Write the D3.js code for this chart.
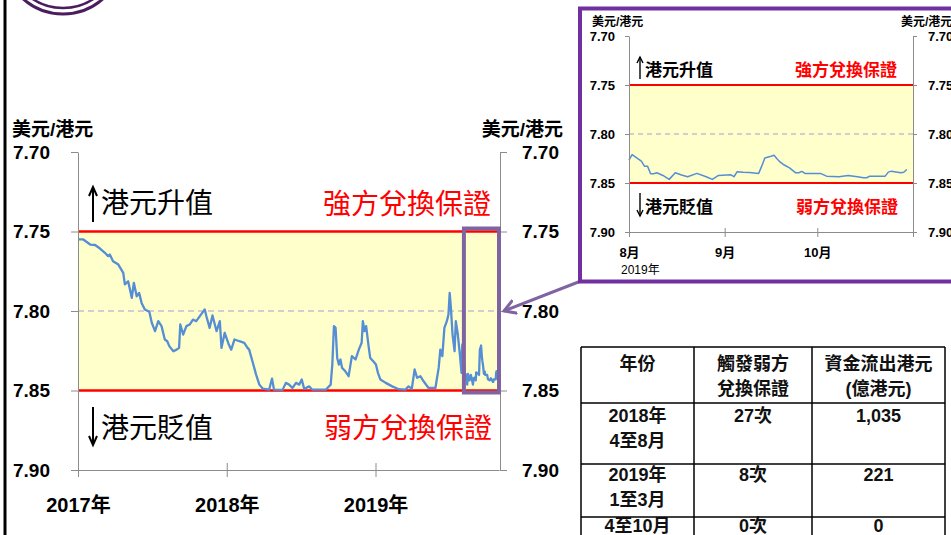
<!DOCTYPE html>
<html><head><meta charset="utf-8">
<script src="https://cdn.jsdelivr.net/npm/d3@7"></script>
<style>
body{margin:0;background:#fff;overflow:hidden;}
svg{display:block;}
text{font-family:"Liberation Sans","Noto Sans CJK TC",Arial,sans-serif;}
.cjk{font-family:"Noto Sans CJK TC","Liberation Sans",sans-serif;}
</style></head><body>
<svg id="c" width="951" height="535"></svg>
<script>
// ---------------- data ----------------
const yTicks = [7.70, 7.75, 7.80, 7.85, 7.90];
const yearTicks = ["2017-01-01", "2018-01-01", "2019-01-01"];
const yearLabels = ["2017年", "2018年", "2019年"];
const monthTicks = ["2019-08-01", "2019-09-01", "2019-10-01"];
const monthLabels = ["8月", "9月", "10月"];
const strongSide = 7.75, weakSide = 7.85, midRate = 7.80;
const mainPeriod = ["2017-01-01", "2019-10-31"];
const zoomPeriod = ["2019-08-01", "2019-11-01"];

const trendDates = [
"2017-01-02","2017-01-14","2017-01-31","2017-02-12","2017-02-24","2017-03-08","2017-03-16","2017-03-20","2017-03-28","2017-04-10",
"2017-04-22","2017-04-26","2017-05-04","2017-05-13","2017-05-18","2017-05-25","2017-05-31","2017-06-06","2017-06-14","2017-06-25",
"2017-07-01","2017-07-09","2017-07-17","2017-07-25","2017-08-02","2017-08-08","2017-08-13","2017-08-23","2017-08-31","2017-09-06",
"2017-09-09","2017-09-16","2017-09-24","2017-10-02","2017-10-10","2017-10-18","2017-10-31","2017-11-08","2017-11-12","2017-11-20",
"2017-11-27","2017-12-07","2017-12-15","2017-12-19","2017-12-27","2018-01-06","2018-01-12","2018-01-20","2018-02-01","2018-02-13",
"2018-02-21","2018-02-25","2018-03-05","2018-03-14","2018-03-22","2018-03-30","2018-04-15","2018-04-22","2018-04-27","2018-05-18",
"2018-05-26","2018-06-03","2018-06-11","2018-06-20","2018-06-28","2018-07-04","2018-07-10","2018-07-22","2018-07-30","2018-09-01",
"2018-09-13","2018-09-17","2018-09-21","2018-09-25","2018-09-29","2018-10-03","2018-10-07","2018-10-11","2018-10-19","2018-10-27",
"2018-11-04","2018-11-13","2018-11-21","2018-11-28","2018-12-01","2018-12-05","2018-12-09","2018-12-15","2018-12-19","2018-12-27",
"2019-01-02","2019-01-07","2019-01-13","2019-01-26","2019-02-11","2019-02-27","2019-03-15","2019-03-23","2019-03-31","2019-04-07",
"2019-04-13","2019-04-21","2019-04-29","2019-05-11","2019-05-28","2019-06-01","2019-06-05","2019-06-09","2019-06-14","2019-06-19",
"2019-06-25","2019-06-29","2019-07-02","2019-07-05","2019-07-09","2019-07-14","2019-07-17","2019-07-22","2019-07-27","2019-07-31"];
const trendRates = [
7.7550,7.7550,7.7582,7.7585,7.7607,7.7634,7.7655,7.7645,7.7687,7.7708,
7.7760,7.7833,7.7813,7.7917,7.7823,7.7907,7.7886,7.7949,7.7990,7.8005,
7.8074,7.8127,7.8064,7.8095,7.8179,7.8190,7.8221,7.8253,7.8243,7.8232,
7.8085,7.8148,7.8095,7.8085,7.8054,7.8064,7.8018,7.7990,7.8033,7.8106,
7.8028,7.8127,7.8064,7.8232,7.8137,7.8211,7.8243,7.8179,7.8190,7.8200,
7.8232,7.8243,7.8316,7.8400,7.8463,7.8488,7.8495,7.8425,7.8495,7.8496,
7.8452,7.8463,7.8484,7.8452,7.8463,7.8431,7.8490,7.8474,7.8495,7.8495,
7.8463,7.8337,7.8095,7.8106,7.8295,7.8337,7.8305,7.8358,7.8379,7.8410,
7.8284,7.8305,7.8243,7.8200,7.8064,7.8127,7.8095,7.8221,7.8295,7.8318,
7.8337,7.8389,7.8431,7.8452,7.8474,7.8492,7.8495,7.8474,7.8490,7.8368,
7.8420,7.8410,7.8442,7.8484,7.8484,7.8420,7.8358,7.8243,7.8284,7.8106,
7.8064,7.8022,7.7886,7.7980,7.8148,7.8253,7.8064,7.8148,7.8274,7.8389];

const zoomDates = [
"2019-08-01","2019-08-02","2019-08-05","2019-08-06","2019-08-07","2019-08-08","2019-08-09","2019-08-10","2019-08-12","2019-08-14",
"2019-08-16","2019-08-18","2019-08-20","2019-08-23","2019-08-26","2019-08-28","2019-08-30","2019-09-03","2019-09-04","2019-09-05",
"2019-09-07","2019-09-09","2019-09-12","2019-09-13","2019-09-14","2019-09-16","2019-09-17","2019-09-18","2019-09-19","2019-09-20",
"2019-09-22","2019-09-24","2019-09-25","2019-09-26","2019-09-27","2019-09-30","2019-10-02","2019-10-04","2019-10-08","2019-10-11",
"2019-10-14","2019-10-16","2019-10-17","2019-10-18","2019-10-21","2019-10-23","2019-10-24","2019-10-25","2019-10-28","2019-10-29",
"2019-10-30"];
const zoomRates = [
7.8267,7.8210,7.8277,7.8328,7.8328,7.8406,7.8406,7.8396,7.8423,7.8463,
7.8396,7.8419,7.8436,7.8402,7.8436,7.8463,7.8423,7.8416,7.8436,7.8386,
7.8390,7.8392,7.8402,7.8328,7.8244,7.8227,7.8217,7.8254,7.8288,7.8311,
7.8345,7.8396,7.8396,7.8382,7.8402,7.8402,7.8402,7.8430,7.8436,7.8423,
7.8436,7.8446,7.8446,7.8430,7.8430,7.8430,7.8389,7.8379,7.8396,7.8390,
7.8362];

const tableHeader = [["年份"], ["觸發弱方", "兌換保證"], ["資金流出港元", "(億港元)"]];
const tablePeriods = [["2018年", "4至8月"], ["2019年", "1至3月"], ["4至10月"]];
const tableTriggers = ["27次", "8次", "0次"];
const tableOutflows = ["1,035", "221", "0"];

// ---------------- setup ----------------
const parse = d3.utcParse("%Y-%m-%d");
const mainSeries = trendDates.map((d, i) => ({date: parse(d), rate: trendRates[i]}))
  .concat(zoomDates.map((d, i) => ({date: parse(d), rate: zoomRates[i]})));
const zoomSeries = zoomDates.map((d, i) => ({date: parse(d), rate: zoomRates[i]}));

const svg = d3.select("#c");
const BLUE = "#558ed5", RED = "#ff0000", YEL = "#ffffcc", DASH = "#a99cd4", AX = "#8c8c8c";
const BOXP = "#8064a2", INSETP = "#7030a0";

// left black bar and logo arcs
svg.append("line").attr("x1", 5).attr("x2", 5).attr("y1", 0).attr("y2", 535)
  .attr("stroke", "#000").attr("stroke-width", 3);
svg.append("circle").attr("cx", 63).attr("cy", -46).attr("r", 60)
  .attr("fill", "none").attr("stroke", "#4b1d5e").attr("stroke-width", 3);
svg.append("circle").attr("cx", 63).attr("cy", -47).attr("r", 55)
  .attr("fill", "none").attr("stroke", "#4b1d5e").attr("stroke-width", 2.5);

function vArrow(g, x, yTail, yTip, head, w, sw) {
  const dir = yTip < yTail ? 1 : -1;
  g.append("line").attr("x1", x).attr("x2", x).attr("y1", yTail).attr("y2", yTip)
    .attr("stroke", "#000").attr("stroke-width", sw);
  g.append("path").attr("d", `M${x - w},${yTip + dir * head} L${x},${yTip} L${x + w},${yTip + dir * head}`)
    .attr("fill", "none").attr("stroke", "#000").attr("stroke-width", sw);
}

function drawChart(g, cfg) {
  const {x, y, series, lineW, redW} = cfg;
  const [x0, x1] = x.range();
  g.append("rect").attr("x", x0).attr("y", y(strongSide))
    .attr("width", x1 - x0).attr("height", y(weakSide) - y(strongSide)).attr("fill", YEL);
  g.append("line").attr("x1", x0).attr("x2", x1).attr("y1", y(midRate)).attr("y2", y(midRate))
    .attr("stroke", DASH).attr("stroke-width", 1).attr("stroke-dasharray", cfg.dash);
  [strongSide, weakSide].forEach(v => {
    g.append("line").attr("x1", x0).attr("x2", x1).attr("y1", y(v)).attr("y2", y(v))
      .attr("stroke", RED).attr("stroke-width", redW);
  });
  g.append("path").datum(series).attr("fill", "none").attr("stroke", BLUE)
    .attr("stroke-width", lineW).attr("stroke-linejoin", "round")
    .attr("d", d3.line().x(d => x(d.date)).y(d => y(d.rate)));
}

function styleAxis(sel, fs, weight) {
  sel.selectAll("path, line").attr("stroke", AX);
  sel.selectAll("text").attr("fill", "#000").style("font-size", fs + "px")
    .style("font-weight", weight).style("font-family", '"Liberation Sans","Noto Sans CJK TC",sans-serif');
}

// ---------------- main chart ----------------
const xM = d3.scaleUtc().domain(mainPeriod.map(parse)).range([78, 499]);
const yM = d3.scaleLinear().domain([7.70, 7.90]).range([152, 470]);
const gM = svg.append("g");
drawChart(gM, {x: xM, y: yM, series: mainSeries, lineW: 2.3, redW: 2.5, dash: "6,4"});

const fmt = d3.format(".2f");
gM.append("g").attr("transform", "translate(78,0)")
  .call(d3.axisLeft(yM).tickValues(yTicks).tickSize(7).tickSizeOuter(0).tickPadding(21).tickFormat(fmt))
  .call(s => styleAxis(s, 19, "bold"));
gM.append("g").attr("transform", "translate(500,0)")
  .call(d3.axisRight(yM).tickValues(yTicks).tickSize(7).tickSizeOuter(0).tickPadding(15).tickFormat(fmt))
  .call(s => styleAxis(s, 19, "bold"));
gM.append("g").attr("transform", "translate(0,470)")
  .call(d3.axisBottom(xM).tickValues(yearTicks.map(parse)).tickSize(7).tickSizeOuter(0)
    .tickFormat((d, i) => yearLabels[i]))
  .call(s => styleAxis(s, 20, "bold"))
  .call(s => s.selectAll("text").attr("y", 42).attr("dy", 0));
gM.append("g").attr("transform", "translate(0,470)")
  .call(d3.axisBottom(xM).tickValues(yearTicks.map(parse)).tickSize(-7).tickSizeOuter(0).tickFormat(""))
  .call(s => { s.select(".domain").remove(); s.selectAll("line").attr("stroke", AX); });

gM.append("text").attr("x", 12).attr("y", 136).text("美元/港元")
  .style("font-size", "19px").style("font-weight", "bold");
gM.append("text").attr("x", 563).attr("y", 136).attr("text-anchor", "end").text("美元/港元")
  .style("font-size", "19px").style("font-weight", "bold");

vArrow(gM, 93, 222, 187, 9, 4, 2);
vArrow(gM, 93, 407, 445, 9, 4, 2);
gM.append("text").attr("class", "cjk").attr("x", 101).attr("y", 201).attr("dominant-baseline", "central")
  .style("font-size", "28px").text("港元升值");
gM.append("text").attr("class", "cjk").attr("x", 101).attr("y", 426).attr("dominant-baseline", "central")
  .style("font-size", "28px").text("港元貶值");
gM.append("text").attr("class", "cjk").attr("x", 491).attr("y", 202).attr("dominant-baseline", "central")
  .attr("text-anchor", "end").attr("fill", RED).style("font-size", "28px").text("強方兌換保證");
gM.append("text").attr("class", "cjk").attr("x", 492).attr("y", 426).attr("dominant-baseline", "central")
  .attr("text-anchor", "end").attr("fill", RED).style("font-size", "28px").text("弱方兌換保證");

// highlight box on the zoom period
const bx0 = xM(parse(zoomPeriod[0])) + 2, bx1 = xM.range()[1];
gM.append("rect").attr("x", bx0).attr("y", yM(strongSide) - 3)
  .attr("width", bx1 - bx0).attr("height", yM(weakSide) - yM(strongSide) + 5)
  .attr("fill", "none").attr("stroke", BOXP).attr("stroke-width", 4);

// connecting arrow
const defs = svg.append("defs");
defs.append("marker").attr("id", "ah").attr("viewBox", "0 -8 14 16").attr("refX", 12).attr("refY", 0)
  .attr("markerWidth", 14).attr("markerHeight", 16).attr("markerUnits", "userSpaceOnUse").attr("orient", "auto")
  .append("path").attr("d", "M0,-7 L12,0 L0,7").attr("fill", "none").attr("stroke", BOXP).attr("stroke-width", 3);
svg.append("line").attr("x1", 581).attr("y1", 281).attr("x2", 504).attr("y2", yM(midRate))
  .attr("stroke", BOXP).attr("stroke-width", 3).attr("marker-end", "url(#ah)");

// ---------------- inset chart ----------------
const xI = d3.scaleUtc().domain(zoomPeriod.map(parse)).range([629, 913]);
const yI = d3.scaleLinear().domain([7.70, 7.90]).range([36, 232]);
const gI = svg.append("g");
gI.append("rect").attr("x", 580).attr("y", 8.5).attr("width", 400).attr("height", 273)
  .attr("fill", "#fff").attr("stroke", INSETP).attr("stroke-width", 4);
drawChart(gI, {x: xI, y: yI, series: zoomSeries, lineW: 1.5, redW: 2, dash: "5,4"});
gI.append("g").attr("transform", "translate(629,0)")
  .call(d3.axisLeft(yI).tickValues(yTicks).tickSize(4).tickSizeOuter(0).tickPadding(10).tickFormat(fmt))
  .call(s => styleAxis(s, 13, "bold"));
gI.append("g").attr("transform", "translate(913,0)")
  .call(d3.axisRight(yI).tickValues(yTicks).tickSize(4).tickSizeOuter(0).tickPadding(11).tickFormat(fmt))
  .call(s => styleAxis(s, 13, "bold"));
const mTicks = monthTicks.map(parse).concat([parse(zoomPeriod[1])]);
gI.append("g").attr("transform", "translate(0,232)")
  .call(d3.axisBottom(xI).tickValues(mTicks).tickSize(5).tickSizeOuter(0)
    .tickFormat((d, i) => monthLabels[i] || ""))
  .call(s => styleAxis(s, 13, "bold"))
  .call(s => s.selectAll("text").attr("y", 25).attr("dy", 0));
gI.append("g").attr("transform", "translate(0,232)")
  .call(d3.axisBottom(xI).tickValues(mTicks).tickSize(-4).tickSizeOuter(0).tickFormat(""))
  .call(s => { s.select(".domain").remove(); s.selectAll("line").attr("stroke", AX); });
gI.append("text").attr("x", 621).attr("y", 274).text("2019年").style("font-size", "12px");
gI.append("text").attr("x", 592).attr("y", 26).text("美元/港元").style("font-size", "12px").style("font-weight", "bold");
gI.append("text").attr("x", 901).attr("y", 26).text("美元/港元").style("font-size", "12px").style("font-weight", "bold");

vArrow(gI, 640, 79, 57, 6, 3, 1.4);
vArrow(gI, 640, 193, 216, 6, 3, 1.4);
gI.append("text").attr("class", "cjk").attr("x", 645).attr("y", 68).attr("dominant-baseline", "central")
  .style("font-size", "17px").style("font-weight", "bold").text("港元升值");
gI.append("text").attr("class", "cjk").attr("x", 645).attr("y", 205).attr("dominant-baseline", "central")
  .style("font-size", "17px").style("font-weight", "bold").text("港元貶值");
gI.append("text").attr("class", "cjk").attr("x", 897).attr("y", 68).attr("dominant-baseline", "central")
  .attr("text-anchor", "end").attr("fill", RED).style("font-size", "17px").style("font-weight", "bold").text("強方兌換保證");
gI.append("text").attr("class", "cjk").attr("x", 898).attr("y", 205).attr("dominant-baseline", "central")
  .attr("text-anchor", "end").attr("fill", RED).style("font-size", "17px").style("font-weight", "bold").text("弱方兌換保證");

// ---------------- table ----------------
const gT = svg.append("g");
const colX = [581, 694, 812, 945];
const rowY = [347, 403, 464, 517, 600];
rowY.forEach(yv => gT.append("line").attr("x1", colX[0]).attr("x2", colX[3]).attr("y1", yv).attr("y2", yv)
  .attr("stroke", "#000").attr("stroke-width", 1.5));
colX.forEach(xv => gT.append("line").attr("x1", xv).attr("x2", xv).attr("y1", rowY[0]).attr("y2", 600)
  .attr("stroke", "#000").attr("stroke-width", 1.5));
const colC = [0, 1, 2].map(i => (colX[i] + colX[i + 1]) / 2);
function cell(lines, ci, base) {
  lines.forEach((t, k) => gT.append("text").attr("x", colC[ci]).attr("y", base + k * 25)
    .attr("text-anchor", "middle").style("font-size", "18px").style("font-weight", "bold")
    .attr("fill", "#111").text(t));
}
tableHeader.forEach((h, ci) => cell(h, ci, 370));
const rowBase = [422, 481, 532];
tablePeriods.forEach((p, r) => {
  cell(p, 0, rowBase[r]);
  cell([tableTriggers[r]], 1, rowBase[r]);
  cell([tableOutflows[r]], 2, rowBase[r]);
});
</script>
</body></html>
